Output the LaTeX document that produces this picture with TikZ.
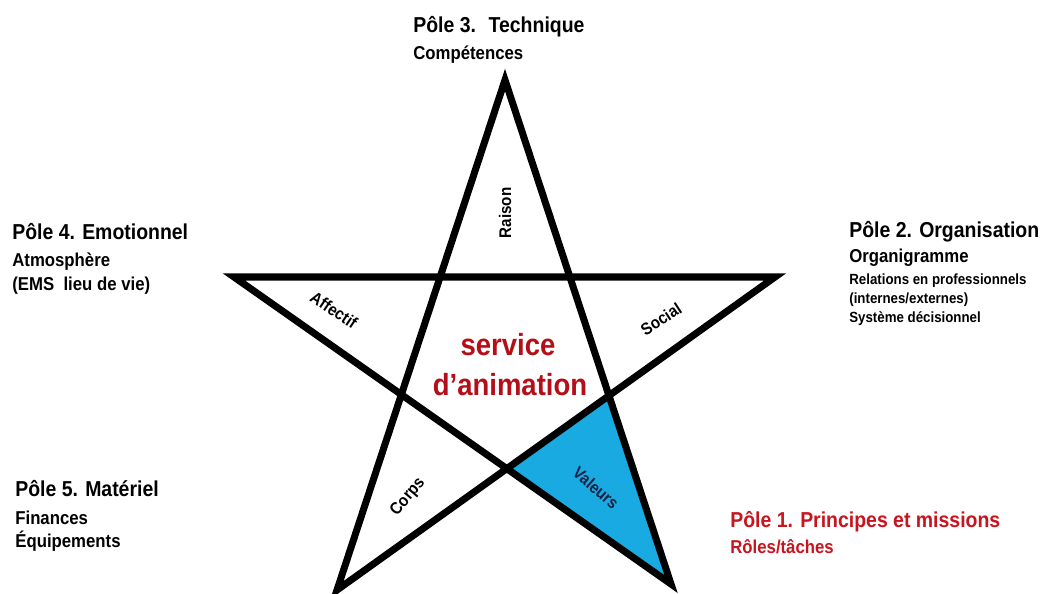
\documentclass[tikz,border=0pt]{standalone}
\usepackage{fontspec}
\setmainfont{Liberation Sans}[FakeStretch=0.9]
\usetikzlibrary{positioning}
\definecolor{poleRed}{RGB}{200,20,30}
\definecolor{animRed}{RGB}{180,15,25}
\definecolor{valBlue}{RGB}{25,170,225}
\definecolor{valText}{RGB}{20,35,70}
\tikzset{
  pole/.style   ={anchor=base west, inner sep=0pt, font=\bfseries\fontsize{12.3}{14}\selectfont},
  sub/.style    ={anchor=base west, inner sep=0pt, font=\bfseries\fontsize{10.6}{12}\selectfont},
  subsm/.style  ={anchor=base west, inner sep=0pt, font=\bfseries\fontsize{8.4}{10}\selectfont},
  arm/.style    ={inner sep=0pt, font=\bfseries\fontsize{9.6}{11}\selectfont},
  anim/.style   ={anchor=base, inner sep=0pt, text=animRed, font=\bfseries\fontsize{17.4}{20}\selectfont},
  starline/.style={line width=4pt, line join=miter, miter limit=20},
}
\begin{document}
\begin{tikzpicture}[x=0.02cm, y=-0.02cm]
  \useasboundingbox (0,0) rectangle (1040,594);
  % the five tips
  \coordinate (T)  at (505,80);
  \coordinate (L)  at (234,277);
  \coordinate (R)  at (775,277);
  \coordinate (BL) at (337,590);
  \coordinate (BR) at (671,584);
  % inner corners
  \coordinate (ilr) at (intersection of R--BL and T--BR);
  \coordinate (ib)  at (intersection of L--BR and R--BL);
  \fill[valBlue] (ilr) -- (ib) -- (BR) -- cycle;
  \draw[starline] (T) -- (BL) -- (R) -- (L) -- (BR) -- cycle;

  % arm labels
  \node[arm, rotate=90]  (raison)  at (505,213) {Raison};
  \node[arm, rotate=-34] (affectif) at (334,310) {Affectif};
  \node[arm, rotate=33]  (social)  at (661,319) {Social};
  \node[arm, rotate=50]  (corps)   at (408,497) {Corps};
  \node[arm, rotate=-41, text=valText] (valeurs) at (596,488) {Valeurs};

  % centre
  \node[anim] (service) at (508,355) {service};
  \node[anim] (animation) at (510,395) {d’animation};

  % Pole 3
  \node[pole] (p3) at (413,33) {Pôle 3. \ Technique};
  \node[sub]  (p3a) at (413,60) {Compétences};
  % Pole 4
  \node[pole] (p4) at (12,240) {Pôle 4. Emotionnel};
  \node[sub]  (p4a) at (12,267) {Atmosphère};
  \node[sub]  (p4b) at (12,291) {(EMS \ lieu de vie)};
  % Pole 2
  \node[pole] (p2) at (849,238) {Pôle 2. Organisation};
  \node[sub]  (p2a) at (849,263) {Organigramme};
  \node[subsm] (p2b) at (849,284) {Relations en professionnels};
  \node[subsm] (p2c) at (849,303) {(internes/externes)};
  \node[subsm] (p2d) at (849,322) {Système décisionnel};
  % Pole 5
  \node[pole] (p5) at (15,496) {Pôle 5. Matériel};
  \node[sub]  (p5a) at (15,524) {Finances};
  \node[sub]  (p5b) at (15,547) {Équipements};
  % Pole 1
  \node[pole, text=poleRed] (p1) at (730,527) {Pôle 1. Principes et missions};
  \node[sub, text=poleRed]  (p1a) at (730,553) {Rôles/tâches};
\end{tikzpicture}
\end{document}
